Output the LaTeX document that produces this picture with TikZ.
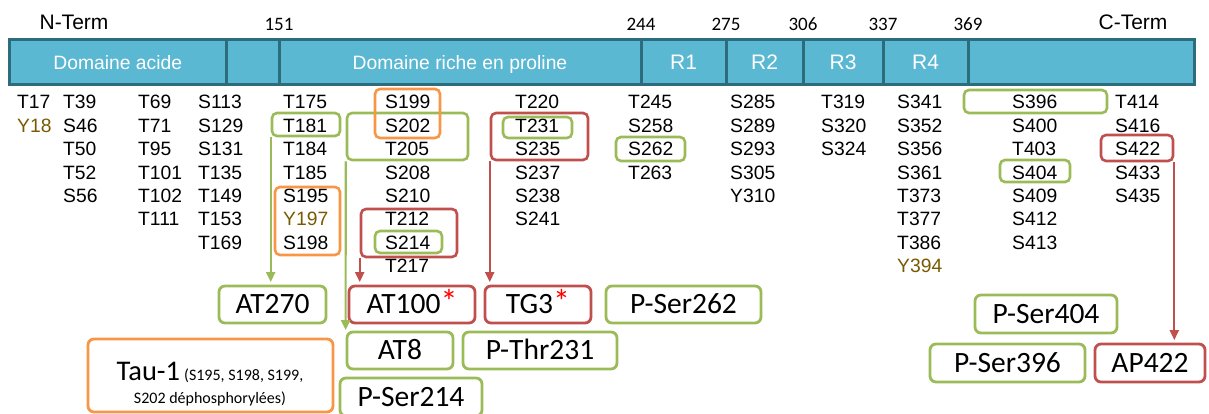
\documentclass[tikz,border=0pt]{standalone}
\usepackage{fontspec}
\setmainfont{Liberation Sans}
\newfontfamily\calfont{Carlito}
\usetikzlibrary{arrows.meta}
\definecolor{barfill}{RGB}{91,184,211}
\definecolor{barline}{RGB}{45,108,125}
\definecolor{grn}{RGB}{155,187,89}
\definecolor{rdd}{RGB}{192,80,77}
\definecolor{org}{RGB}{247,150,70}
\definecolor{ytxt}{RGB}{120,90,0}
\newcommand\yel[1]{\textcolor{ytxt}{#1}}
\newcommand\redast{{\color{red}\fontsize{34}{34}\selectfont*}}
\begin{document}
\begin{tikzpicture}[x=1pt,y=-1pt,
  seg/.style={draw=barline, line width=3, fill=barfill, minimum height=45, inner sep=0,
    text=white, text height=13.6, text depth=0, font=\fontsize{19.3}{22}\selectfont},
  res/.style={anchor=base west, inner sep=0, font=\fontsize{19.3}{22}\selectfont},
  lbl/.style={anchor=base, inner sep=0, font=\fontsize{21}{24}\selectfont},
  num/.style={anchor=base, inner sep=0, font=\calfont\fontsize{19}{22}\selectfont},
  rbox/.style={draw, line width=2.6, rounded corners=5, inner sep=0},
  abox/.style={draw, line width=2.8, rounded corners=6, inner sep=0, minimum height=37,
    text height=18.7, text depth=0, font=\calfont\fontsize{29.5}{34}\selectfont},
  arr/.style={line width=2.2, -{Triangle[length=10,width=9]}}
]
\useasboundingbox (0,0) rectangle (1209,414);

% domain bar
\node[seg, minimum width=216.5] (s1) at (117.75,62.5) {Domaine acide};
\node[seg, minimum width=53] (s2) at (252.5,62.5) {};
\node[seg, minimum width=362] (s3) at (460,62.5) {Domaine riche en proline};
\node[seg, minimum width=85, font=\fontsize{21}{24}\selectfont, text height=15] (s4) at (683.5,62.5) {R1};
\node[seg, minimum width=77, font=\fontsize{21}{24}\selectfont, text height=15] (s5) at (764.5,62.5) {R2};
\node[seg, minimum width=80, font=\fontsize{21}{24}\selectfont, text height=15] (s6) at (843,62.5) {R3};
\node[seg, minimum width=85, font=\fontsize{21}{24}\selectfont, text height=15] (s7) at (925.5,62.5) {R4};
\node[seg, minimum width=226] (s8) at (1081,62.5) {};

\node[lbl] (nterm) at (74,30) {N-Term};
\node[lbl] (cterm) at (1133,30) {C-Term};
\node[num] (n151) at (279,31) {151};
\node[num] (n244) at (641,31) {244};
\node[num] (n275) at (726,31) {275};
\node[num] (n306) at (803,31) {306};
\node[num] (n337) at (883,31) {337};
\node[num] (n369) at (968,31) {369};

% residues
\foreach \cx/\cn/\lst in {
  17/1/{T17,\yel{Y18}},
  63/2/{T39,S46,T50,T52,S56},
  138/3/{T69,T71,T95,T101,T102,T111},
  198/4/{S113,S129,S131,T135,T149,T153,T169},
  283/5/{T175,T181,T184,T185,S195,\yel{Y197},S198},
  385/6/{S199,S202,T205,S208,S210,T212,S214,T217},
  515/7/{T220,T231,S235,S237,S238,S241},
  628/8/{T245,S258,S262,T263},
  730/9/{S285,S289,S293,S305,Y310},
  821/10/{T319,S320,S324},
  897/11/{S341,S352,S356,S361,T373,T377,T386,\yel{Y394}},
  1012/12/{S396,S400,T403,S404,S409,S412,S413},
  1115/13/{T414,S416,S422,S433,S435}}{
  \foreach \t [count=\i] in \lst {
    \node[res] (c\cn-\i) at (\cx,{108.8+23.4*(\i-1)}) {\t};
  }
}

% residue boxes
\node[rbox, draw=grn, minimum width=68, minimum height=23] (b181) at (306,124.5) {};
\node[rbox, draw=org, minimum width=65, minimum height=68] (o195) at (307.5,221) {};
\node[rbox, draw=grn, minimum width=121, minimum height=47] (g202) at (407.5,136.5) {};
\node[rbox, draw=org, minimum width=65, minimum height=49] (o199) at (407.5,113.5) {};
\node[rbox, draw=rdd, minimum width=96, minimum height=48] (r212) at (409,233) {};
\node[rbox, draw=grn, minimum width=67, minimum height=22] (g214) at (408.5,242) {};
\node[rbox, draw=rdd, minimum width=97, minimum height=47] (r231) at (539.5,136.5) {};
\node[rbox, draw=grn, minimum width=69, minimum height=21] (g231) at (537.5,127.5) {};
\node[rbox, draw=grn, minimum width=69, minimum height=24] (g262) at (650.5,149) {};
\node[rbox, draw=grn, minimum width=143, minimum height=23] (g396) at (1035.5,101.5) {};
\node[rbox, draw=grn, minimum width=70, minimum height=22] (g404) at (1035,171) {};
\node[rbox, draw=rdd, minimum width=72, minimum height=26] (r422) at (1137,148) {};

% antibody boxes
\node[abox, draw=grn, minimum width=107] (at270) at (272.5,304.5) {AT270};
\node[abox, draw=rdd, minimum width=126] (at100) at (412,304.5) {AT100\redast};
\node[abox, draw=rdd, minimum width=106] (tg3) at (538,304.5) {TG3\redast};
\node[abox, draw=grn, minimum width=155] (ps262) at (683.5,304.5) {P-Ser262};
\node[abox, draw=grn, minimum width=106] (at8) at (400,350.5) {AT8};
\node[abox, draw=grn, minimum width=154] (pt231) at (540,350.5) {P-Thr231};
\node[abox, draw=grn, minimum width=142, minimum height=38] (ps214) at (411,397) {P-Ser214};
\node[abox, draw=org, minimum width=245, minimum height=73] (tau1) at (210.5,375.5) {};
\node[anchor=base, inner sep=0, font=\calfont] (tau1a) at (210,380)
  {{\fontsize{28.5}{32}\selectfont Tau-1}\hspace{4pt}{\fontsize{16}{19}\selectfont (S195, S198, S199,}};
\node[anchor=base, inner sep=0, font=\calfont\fontsize{16}{19}\selectfont] (tau1b) at (210,403)
  {S202 déphosphorylées)};
\node[abox, draw=grn, minimum width=142, minimum height=38] (ps404) at (1046,314) {P-Ser404};
\node[abox, draw=grn, minimum width=155, minimum height=38] (ps396) at (1007.5,363) {P-Ser396};
\node[abox, draw=rdd, minimum width=110, minimum height=38] (ap422) at (1150,363) {AP422};

% arrows
\draw[arr, grn, shorten >=2.5] (b181.south west) -- (b181.south west |- at270.north);
\draw[arr, grn, shorten >=0.5] (g202.south west) -- (at8.north west);
\draw[arr, rdd, shorten >=2.5] (r212.south west) -- (r212.south west |- at100.north);
\draw[arr, rdd, shorten >=2.5] (r231.south west) -- (r231.south west |- tg3.north);
\draw[arr, rdd, shorten >=2.5] (r422.south east) -- (r422.south east |- ap422.north);
\end{tikzpicture}
\end{document}
